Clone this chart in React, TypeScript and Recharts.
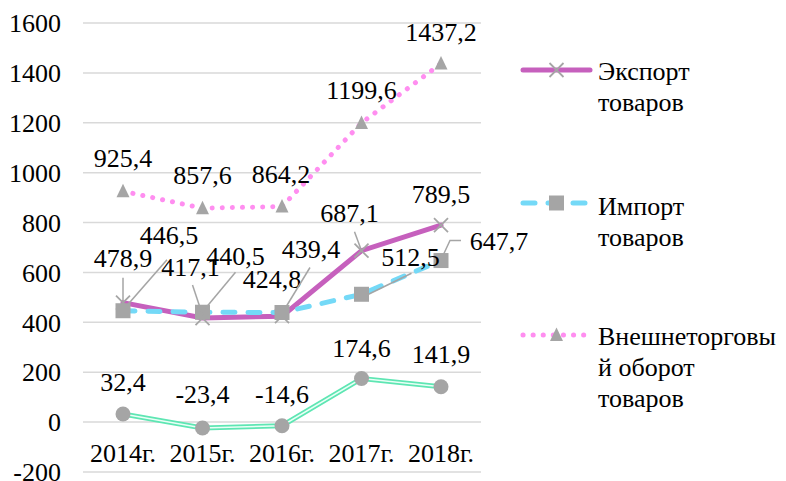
import type { FC } from 'react';
import { LineChart, Line, XAxis, YAxis, CartesianGrid, LabelList } from 'recharts';

const years = ['2014г.', '2015г.', '2016г.', '2017г.', '2018г.'];
const exportGoods = [478.9, 417.1, 424.8, 687.1, 789.5];
const importGoods = [446.5, 440.5, 439.4, 512.5, 647.7];
const tradeTurnover = [925.4, 857.6, 864.2, 1199.6, 1437.2];
const tradeBalance = [32.4, -23.4, -14.6, 174.6, 141.9];
const yTicks = [-200, 0, 200, 400, 600, 800, 1000, 1200, 1400, 1600];

const legendExport = ['Экспорт', 'товаров'];
const legendImport = ['Импорт', 'товаров'];
const legendTrade = ['Внешнеторговы', 'й оборот', 'товаров'];

const rows = years.map((year, i) => ({
  year,
  exp: exportGoods[i],
  imp: importGoods[i],
  trade: tradeTurnover[i],
  bal: tradeBalance[i],
}));

const FONT = "'Liberation Serif', 'Times New Roman', serif";
const GREY = '#a5a5a5';
const C_EXP = '#c660bd';
const C_IMP = '#74d9f7';
const C_TRADE = '#ff8ef0';
const C_BAL = '#5ee6b3';

// label placement relative to the point (label centre + optional leader polyline)
type Place = { dx: number; dy: number; leader?: [number, number][] };

const expPlaces: Place[] = [
  { dx: 0, dy: -44, leader: [[0, -25], [0, -2]] },
  { dx: -12, dy: -51, leader: [[-10, -33], [0, -3]] },
  { dx: -10, dy: -37 },
  { dx: -12, dy: -37, leader: [[-7, -19], [0, 0]] },
  { dx: 0, dy: -31 },
];
const impPlaces: Place[] = [
  { dx: 46, dy: -75, leader: [[44, -51], [2, -3]] },
  { dx: 33, dy: -56, leader: [[33, -40], [3, -4]] },
  { dx: 29, dy: -63, leader: [[28, -45], [3, -4]] },
  { dx: 49, dy: -37, leader: [[50, -21], [5, 1]] },
  { dx: 58, dy: -19, leader: [[20, -20], [9, -20], [2, -5]] },
];
const tradePlaces: Place[] = [
  { dx: 0, dy: -33 },
  { dx: 0, dy: -33 },
  { dx: -1, dy: -32 },
  { dx: 0, dy: -32 },
  { dx: 0, dy: -31 },
];
const balPlaces: Place[] = [
  { dx: 0, dy: -32 },
  { dx: 0, dy: -33 },
  { dx: 0, dy: -31 },
  { dx: 0, dy: -30 },
  { dx: 0, dy: -32 },
];

const fmt = (v: number) => v.toFixed(1).replace('.', ',');

const makeLabel = (places: Place[]) => (props: any) => {
  const { x, y, value, index } = props;
  const p = places[index];
  if (!p || x == null || y == null) return null;
  return (
    <g key={`lbl-${index}`}>
      {p.leader && (
        <polyline
          points={p.leader.map(([a, b]) => `${x + a},${y + b}`).join(' ')}
          fill="none"
          stroke={GREY}
          strokeWidth={1.5}
        />
      )}
      <text
        x={x + p.dx}
        y={y + p.dy}
        textAnchor="middle"
        dominantBaseline="central"
        fontSize={26}
        fontFamily={FONT}
        fill="#000"
      >
        {fmt(value)}
      </text>
    </g>
  );
};

const CrossDot = (props: any) => {
  const { cx, cy, index } = props;
  const s = 7;
  return (
    <g key={`x-${index}`} stroke={GREY} strokeWidth={1.8}>
      <line x1={cx - s} y1={cy - s} x2={cx + s} y2={cy + s} />
      <line x1={cx - s} y1={cy + s} x2={cx + s} y2={cy - s} />
    </g>
  );
};

const SquareDot = (props: any) => {
  const { cx, cy, index } = props;
  return <rect key={`s-${index}`} x={cx - 7.5} y={cy - 7.5} width={15} height={15} fill={GREY} />;
};

const TriDot = (props: any) => {
  const { cx, cy, index } = props;
  return (
    <polygon
      key={`t-${index}`}
      points={`${cx},${cy - 7.5} ${cx + 6.5},${cy + 6} ${cx - 6.5},${cy + 6}`}
      fill={GREY}
    />
  );
};

const CircleDot = (props: any) => {
  const { cx, cy, index } = props;
  return <circle key={`c-${index}`} cx={cx} cy={cy} r={7.5} fill={GREY} />;
};

const YearTick = (props: any) => {
  const { x, y, payload } = props;
  return (
    <text x={x} y={y - 27} textAnchor="middle" dominantBaseline="central" fontSize={26} fontFamily={FONT} fill="#000">
      {payload.value}
    </text>
  );
};

const LegendIcon: FC<{ kind: 'exp' | 'imp' | 'trade' }> = ({ kind }) => (
  <svg width={74} height={20} style={{ display: 'block' }}>
    {kind === 'exp' && (
      <>
        <line x1={3} y1={10} x2={70} y2={10} stroke={C_EXP} strokeWidth={5} strokeLinecap="round" />
        <CrossDot cx={36.5} cy={10} index={0} />
      </>
    )}
    {kind === 'imp' && (
      <>
        <line x1={3} y1={10} x2={70} y2={10} stroke={C_IMP} strokeWidth={5} strokeLinecap="round" strokeDasharray="12 13" />
        <SquareDot cx={36.5} cy={10} index={0} />
      </>
    )}
    {kind === 'trade' && (
      <>
        <line x1={3} y1={10} x2={72} y2={10} stroke={C_TRADE} strokeWidth={5} strokeLinecap="round" strokeDasharray="0.1 10" />
        <TriDot cx={36.5} cy={10} index={0} />
      </>
    )}
  </svg>
);

const LegendBlock: FC<{ kind: 'exp' | 'imp' | 'trade'; lines: string[]; top: number; iconDy: number }> = ({ kind, lines, top, iconDy }) => (
  <div style={{ position: 'absolute', left: 520, top, fontFamily: FONT, fontSize: 26, lineHeight: '31px', color: '#000' }}>
    <div style={{ position: 'absolute', left: 0, top: 15.5 - 10 + iconDy }}>
      <LegendIcon kind={kind} />
    </div>
    <div style={{ position: 'absolute', left: 78, top: 0, whiteSpace: 'nowrap' }}>
      {lines.map((t) => (
        <div key={t}>{t}</div>
      ))}
    </div>
  </div>
);

export default function App() {
  return (
    <div style={{ position: 'absolute', left: 0, top: 0, width: 786, height: 481, background: '#fff', fontFamily: FONT }}>
      <LineChart width={786} height={481} data={rows} margin={{ top: 23, right: 305, bottom: 0, left: 0 }}>
        <CartesianGrid vertical={false} stroke="#d9d9d9" strokeWidth={1.5} />
        <XAxis
          dataKey="year"
          axisLine={false}
          tickLine={false}
          height={9}
          interval={0}
          padding={{ left: 40, right: 40 }}
          tick={<YearTick />}
        />
        <YAxis
          domain={[-200, 1600]}
          ticks={yTicks}
          width={83}
          axisLine={false}
          tickLine={false}
          tickSize={0}
          tickMargin={22}
          interval={0}
          tick={{ fontSize: 26, fill: '#000', fontFamily: FONT }}
        />
        <Line
          dataKey="exp"
          stroke={C_EXP}
          strokeWidth={5}
          strokeLinecap="round"
          dot={CrossDot}
          activeDot={false}
          isAnimationActive={false}
        >
          <LabelList dataKey="exp" content={makeLabel(expPlaces)} />
        </Line>
        <Line
          dataKey="imp"
          stroke={C_IMP}
          strokeWidth={5}
          strokeLinecap="round"
          strokeDasharray="12 13"
          dot={SquareDot}
          activeDot={false}
          isAnimationActive={false}
        >
          <LabelList dataKey="imp" content={makeLabel(impPlaces)} />
        </Line>
        <Line
          dataKey="trade"
          stroke={C_TRADE}
          strokeWidth={5}
          strokeLinecap="round"
          strokeDasharray="0.1 10"
          dot={TriDot}
          activeDot={false}
          isAnimationActive={false}
        >
          <LabelList dataKey="trade" content={makeLabel(tradePlaces)} />
        </Line>
        <Line dataKey="bal" stroke={C_BAL} strokeWidth={5} dot={false} activeDot={false} isAnimationActive={false} />
        <Line dataKey="bal" stroke="#e9fff6" strokeWidth={1.5} dot={CircleDot} activeDot={false} isAnimationActive={false}>
          <LabelList dataKey="bal" content={makeLabel(balPlaces)} />
        </Line>
      </LineChart>
      <LegendBlock kind="exp" lines={legendExport} top={56} iconDy={-1.5} />
      <LegendBlock kind="imp" lines={legendImport} top={191} iconDy={-3.5} />
      <LegendBlock kind="trade" lines={legendTrade} top={321} iconDy={-2} />
    </div>
  );
}
